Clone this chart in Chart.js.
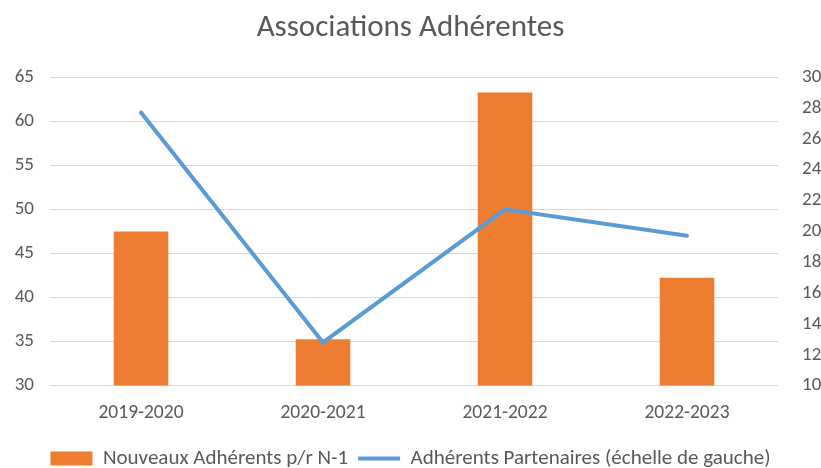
<!DOCTYPE html>
<html>
<head>
<meta charset="utf-8">
<script src="https://cdn.jsdelivr.net/npm/chart.js@4"></script>
<style>
  html, body { margin: 0; padding: 0; background: #fff; }
  #wrap { width: 821px; height: 468px; }
</style>
</head>
<body>
<div id="wrap"><canvas id="myChart"></canvas></div>
<script>
const ctx = document.getElementById('myChart');

const saisons = ['2019-2020', '2020-2021', '2021-2022', '2022-2023'];
const nouveauxAdherents = [20, 13, 29, 17];
const adherentsPartenaires = [61, 34.9, 50, 47];

const fontFamily = "Carlito, Lato, 'Open Sans', sans-serif";
const grey = '#595959';

let dataChart = new Chart(ctx, {
type: 'bar',
data: {
    labels: saisons,
    datasets: [{
        type: 'bar',
        label: 'Nouveaux Adhérents p/r N-1',
        data: nouveauxAdherents,
        backgroundColor: '#ED7D31',
        pointStyle: 'rect',
        yAxisID: 'yRight',
        barPercentage: 0.3,
        categoryPercentage: 1,
        order: 1
    }, {
        type: 'line',
        label: 'Adhérents Partenaires (échelle de gauche)',
        data: adherentsPartenaires,
        borderColor: '#5B9BD5',
        backgroundColor: '#5B9BD5',
        borderWidth: 4,
        borderCapStyle: 'round',
        pointStyle: 'line',
        pointRadius: 0,
        tension: 0,
        fill: false,
        yAxisID: 'yLeft',
        order: 0
    }]
},
options: {
    responsive: true,
    maintainAspectRatio: false,
    animation: false,
    layout: { padding: { top: 6, bottom: -11, left: 0, right: 0 } },
    scales: {
        x: {
            grid: { display: false },
            border: { display: false },
            ticks: { color: grey, font: { family: fontFamily, size: 19.5 }, padding: 8 },
            afterFit: (s) => { s.height += 5; }
        },
        yLeft: {
            position: 'left',
            min: 30,
            max: 65,
            ticks: { stepSize: 5, color: grey, font: { family: fontFamily, size: 19 }, padding: 16 },
            grid: { color: '#D9D9D9', drawTicks: false },
            border: { display: false },
            afterFit: (s) => { s.width = 50; }
        },
        yRight: {
            position: 'right',
            min: 10,
            max: 30,
            ticks: { stepSize: 2, color: grey, font: { family: fontFamily, size: 19 }, padding: 16 },
            grid: { display: false },
            border: { display: false },
            afterFit: (s) => { s.width = 43; }
        }
    },
    plugins: {
        title: {
            display: true,
            text: 'Associations Adhérentes',
            color: grey,
            font: { family: fontFamily, size: 31, weight: 'normal' },
            padding: { top: 4, bottom: 30 }
        },
        legend: {
            display: true,
            position: 'bottom',
            labels: {
                color: grey,
                font: { family: fontFamily, size: 21 },
                usePointStyle: true,
                pointStyleWidth: 42,
                boxHeight: 14,
                padding: 10,
                sort: (a, b) => a.datasetIndex - b.datasetIndex
            }
        },
        tooltip: { enabled: false }
    }
}
});
</script>
</body>
</html>
